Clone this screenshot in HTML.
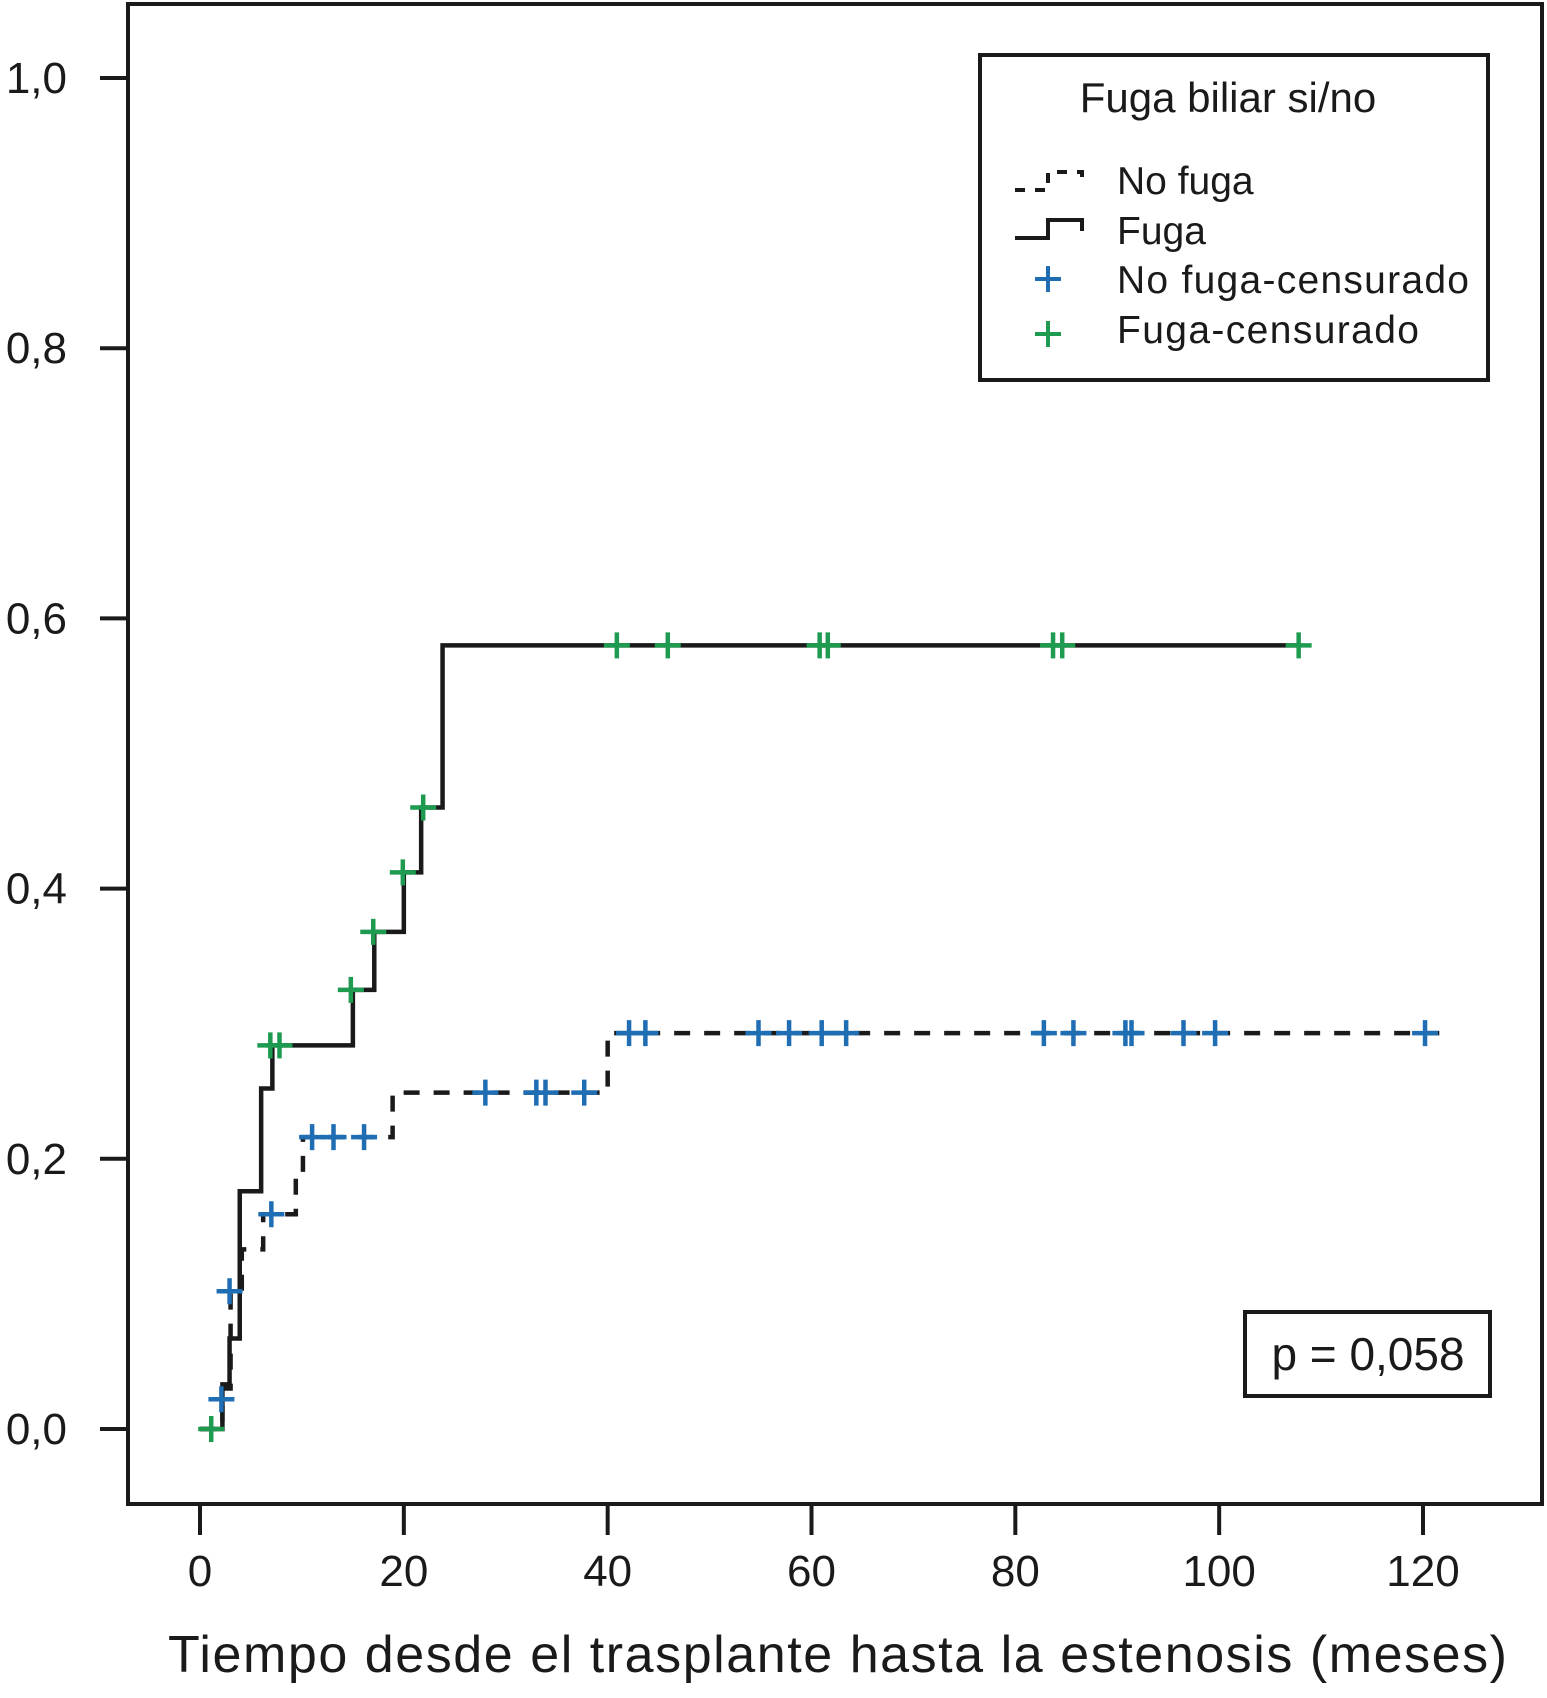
<!DOCTYPE html>
<html><head><meta charset="utf-8"><style>
html,body{margin:0;padding:0;background:#fff;}
svg{display:block;font-family:"Liberation Sans",sans-serif;}
</style></head><body>
<svg id="chart" width="1547" height="1698" viewBox="0 0 1547 1698" xmlns="http://www.w3.org/2000/svg">
<rect x="128" y="4" width="1414" height="1500" fill="none" stroke="#1a1a1a" stroke-width="4"/>
<g id="axes"></g>
<g id="series"></g>
<g>
<rect x="980" y="55" width="508" height="325" fill="#fff" stroke="#1a1a1a" stroke-width="4"/>
<text x="1228" y="112" font-size="42" text-anchor="middle" fill="#1a1a1a">Fuga biliar si/no</text>
<path d="M1015 190 H1048 V172 H1082 V183" fill="none" stroke="#1a1a1a" stroke-width="4" stroke-dasharray="10,10"/>
<text x="1117" y="194" font-size="39" fill="#1a1a1a">No fuga</text>
<path d="M1015 238 H1048 V220 H1082 V231" fill="none" stroke="#1a1a1a" stroke-width="4"/>
<text x="1117" y="244" font-size="39" fill="#1a1a1a">Fuga</text>
<path d="M1035 279 h26 M1048 266 v26" stroke="#1f6db3" stroke-width="4"/>
<text x="1117" y="293" font-size="39" fill="#1a1a1a" textLength="352">No fuga-censurado</text>
<path d="M1035 334 h26 M1048 321 v26" stroke="#1e9b50" stroke-width="4"/>
<text x="1117" y="343" font-size="39" fill="#1a1a1a" textLength="302">Fuga-censurado</text>
</g>
<g>
<rect x="1245" y="1312" width="245" height="84" fill="#fff" stroke="#1a1a1a" stroke-width="4"/>
<text x="1368" y="1370" font-size="46" text-anchor="middle" fill="#1a1a1a">p = 0,058</text>
</g>
<text x="168" y="1672" font-size="52" fill="#1a1a1a" textLength="1339">Tiempo desde el trasplante hasta la estenosis (meses)</text>
</svg>
<script>
const xTicks=[0,20,40,60,80,100,120];
const yTicks=[0,0.2,0.4,0.6,0.8,1.0];
const yTickLabels=["0,0","0,2","0,4","0,6","0,8","1,0"];
const fugaTimes=[0,2.2,2.9,3.9,6.0,7.1,15.0,17.1,20.0,21.7,23.8,108];
const fugaValues=[0,0.033,0.067,0.176,0.252,0.284,0.325,0.368,0.412,0.46,0.58,0.58];
const noFugaTimes=[0,2.2,3.0,4.1,6.2,9.4,10.1,18.9,40.0,121.6];
const noFugaValues=[0,0.03,0.102,0.133,0.159,0.19,0.216,0.249,0.293,0.293];
const fugaCensorTimes=[1.1,6.9,7.8,14.8,17.0,19.9,21.9,40.9,45.9,60.8,61.6,83.7,84.6,107.8];
const fugaCensorValues=[0,0.284,0.284,0.325,0.368,0.412,0.46,0.58,0.58,0.58,0.58,0.58,0.58,0.58];
const noFugaCensorTimes=[2.1,2.9,7.0,11,13.1,16.1,28.0,33.0,33.9,37.7,42.1,43.7,54.8,57.8,61.0,63.4,82.8,85.7,90.8,91.4,96.5,99.6,120.2];
const noFugaCensorValues=[0.022,0.102,0.159,0.216,0.216,0.216,0.249,0.249,0.249,0.249,0.293,0.293,0.293,0.293,0.293,0.293,0.293,0.293,0.293,0.293,0.293,0.293,0.293];

const NS="http://www.w3.org/2000/svg";
const X=t=>200+t*(1423-200)/120;
const Y=v=>1429-v*(1429-78);
const axes=document.getElementById('axes');
const series=document.getElementById('series');
function mk(tag,attrs,parent){const e=document.createElementNS(NS,tag);for(const k in attrs)e.setAttribute(k,attrs[k]);parent.appendChild(e);return e;}
xTicks.forEach(t=>{
  const l=mk('line',{x1:X(t),x2:X(t),y1:1505,y2:1535,stroke:'#1a1a1a','stroke-width':4},axes);
  
  
  const tx=mk('text',{x:X(t),y:1586,'font-size':44,'text-anchor':'middle',fill:'#1a1a1a'},axes);
  tx.textContent=t;
  
  
});
yTicks.forEach((v,i)=>{
  const l=mk('line',{x1:100,x2:128,y1:Y(v),y2:Y(v),stroke:'#1a1a1a','stroke-width':4},axes);
  
  
  const tx=mk('text',{x:67,y:Y(v)+15,'font-size':44,'text-anchor':'end',fill:'#1a1a1a'},axes);
  tx.textContent=yTickLabels[i];
  
  
});
function stepPath(ts,vs){
  let d='M'+X(ts[0])+' '+Y(vs[0]);
  for(let i=1;i<ts.length;i++){d+=' H'+X(ts[i])+' V'+Y(vs[i]);}
  return d;
}
const nf=mk('path',{d:stepPath(noFugaTimes,noFugaValues),fill:'none',stroke:'#1a1a1a','stroke-width':4.5,'stroke-dasharray':'16,14'},series);


const f=mk('path',{d:stepPath(fugaTimes,fugaValues),fill:'none',stroke:'#1a1a1a','stroke-width':4.5},series);


function censor(t,v,color,name){
  const x=X(t),y=Y(v);
  const p=mk('path',{d:`M${x-13} ${y} h26 M${x} ${y-13} v26`,stroke:color,'stroke-width':4.5},series);
  
  
}
noFugaCensorTimes.forEach((t,i)=>censor(t,noFugaCensorValues[i],'#1f6db3','no-fuga-censor'));
fugaCensorTimes.forEach((t,i)=>censor(t,fugaCensorValues[i],'#1e9b50','fuga-censor'));
</script>
</body></html>
